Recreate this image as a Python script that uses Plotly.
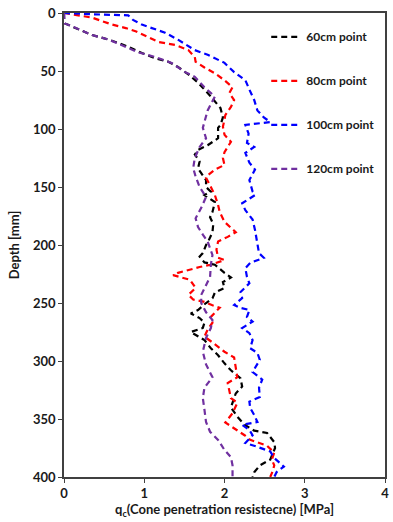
import plotly.graph_objects as go

# ---- data ----
depth_60 = [0, 5, 9, 13, 19, 23, 29, 34.5, 39, 42, 46.5, 53, 60, 66, 72, 82, 90, 96.5, 99, 108, 114, 118, 122, 128,
            134, 138, 144, 150, 154, 157, 163, 171.5, 176, 182, 189, 198, 200, 207, 210, 215, 217, 224, 228, 232,
            237, 241, 246, 250, 256, 259, 263, 267, 271.5, 275, 279, 282, 289, 295, 302, 308, 315, 322, 328, 335,
            340, 348, 355, 360, 362, 370, 375, 385, 390, 396, 400]
qc_60 = [0, 0, 0.01, 0.15, 0.35, 0.56, 0.8, 0.97, 1.14, 1.3, 1.42, 1.55, 1.67, 1.75, 1.83, 1.95, 1.98, 1.95, 1.92,
         1.92, 1.79, 1.67, 1.63, 1.69, 1.67, 1.71, 1.77, 1.77, 1.83, 1.75, 1.88, 1.85, 1.82, 1.86, 1.85, 1.79, 1.77,
         1.73, 1.69, 1.75, 1.88, 2.0, 2.08, 1.98, 2.0, 1.88, 1.85, 1.77, 1.67, 1.58, 1.69, 1.75, 1.73, 1.58, 1.67,
         1.75, 1.83, 1.92, 2.0, 2.08, 2.2, 2.22, 2.14, 2.1, 2.08, 2.16, 2.25, 2.37, 2.53, 2.62, 2.63, 2.57, 2.44,
         2.37, 2.35]

depth_80 = [0, 4, 10, 13, 16, 21, 25, 27.6, 32, 38, 42, 47, 52, 58, 64, 69, 75, 81, 88, 92, 98, 105, 111, 120, 125,
            131, 135, 140, 142, 150, 157, 165.5, 171.5, 180, 189, 193, 197, 204, 211, 213, 217, 219, 221.5, 224, 226,
            230, 237, 243, 247, 249, 252, 254, 262, 267, 273, 279, 284, 292, 297, 306, 314, 319, 326, 332, 336, 345,
            353, 358, 364, 368, 373, 379, 385, 390, 395, 400]
qc_80 = [0, 0.35, 0.6, 0.77, 0.9, 1.05, 1.18, 1.39, 1.55, 1.63, 1.64, 1.75, 1.88, 2.0, 2.1, 2.06, 2.12, 2.08, 2.01,
         2.0, 1.98, 2.0, 2.08, 2.0, 1.98, 2.0, 1.88, 1.79, 1.77, 1.83, 1.88, 1.92, 1.94, 2.0, 2.14, 2.04, 1.92, 1.9,
         1.92, 2.0, 1.83, 1.69, 1.55, 1.42, 1.36, 1.57, 1.64, 1.55, 1.61, 1.75, 1.85, 1.94, 1.83, 1.85, 1.79, 1.75,
         1.85, 2.0, 2.12, 2.14, 2.16, 2.04, 2.06, 2.08, 2.16, 2.1, 2.01, 2.12, 2.25, 2.32, 2.53, 2.62, 2.59, 2.62,
         2.6, 2.57]

depth_100 = [0, 1, 2, 6, 10, 17, 23, 32, 36, 43, 51, 58, 66, 75, 84, 90, 94, 96.5, 104, 112, 115.5, 120.7, 129, 135,
             144, 154, 157, 164, 170, 178, 187, 198, 207, 211, 215.5, 220, 227.6, 233, 240.5, 245.7, 251.7, 254, 256,
             262, 266, 271.6, 276, 282, 289, 293, 299, 309.5, 316, 323, 331, 335, 340.5, 346.5, 352.6, 355, 359.5,
             364, 370.7, 374, 378, 383.6, 391, 395.7, 400]
qc_100 = [0, 0.3, 0.8, 0.86, 0.97, 1.26, 1.42, 1.63, 1.79, 2.0, 2.12, 2.26, 2.31, 2.37, 2.41, 2.49, 2.57, 2.26, 2.3,
          2.28, 2.37, 2.26, 2.31, 2.38, 2.31, 2.35, 2.38, 2.22, 2.26, 2.35, 2.38, 2.41, 2.43, 2.49, 2.32, 2.26, 2.28,
          2.31, 2.2, 2.22, 2.12, 2.19, 2.31, 2.28, 2.35, 2.22, 2.31, 2.35, 2.32, 2.41, 2.44, 2.35, 2.47, 2.43, 2.44,
          2.31, 2.32, 2.37, 2.41, 2.22, 2.31, 2.35, 2.26, 2.41, 2.57, 2.62, 2.74, 2.65, 2.62]

depth_120 = [0, 9, 13, 19, 23, 29, 34, 38, 43, 51, 55, 64, 72, 84, 95, 99, 108, 115.5, 125, 133.6, 141, 150, 158.6,
             168, 177, 184.5, 191, 197, 208.6, 217, 227.6, 234.5, 243, 250, 258, 264.7, 271.6, 280, 292, 303, 314,
             323, 332, 342, 352.6, 361, 368, 376.7, 383, 390, 396.6, 400]
qc_120 = [0, 0.01, 0.15, 0.35, 0.56, 0.77, 0.93, 1.14, 1.34, 1.51, 1.63, 1.75, 1.88, 1.79, 1.75, 1.73, 1.77, 1.69,
          1.63, 1.61, 1.64, 1.69, 1.77, 1.71, 1.64, 1.67, 1.73, 1.79, 1.85, 1.83, 1.82, 1.77, 1.71, 1.71, 1.77, 1.85,
          1.83, 1.77, 1.73, 1.77, 1.85, 1.75, 1.73, 1.75, 1.77, 1.82, 1.92, 2.0, 2.08, 2.1, 2.1, 2.1]

series_names = ["60cm point", "80cm point", "100cm point", "120cm point"]
series_colors = ["#000000", "#ff0000", "#0000ff", "#7030a0"]
series_depths = [depth_60, depth_80, depth_100, depth_120]
series_values = [qc_60, qc_80, qc_100, qc_120]

x_ticks = [0, 1, 2, 3, 4]
y_ticks = [0, 50, 100, 150, 200, 250, 300, 350, 400]

FONT = "Lato"
TXT = "#1a1a1a"

fig = go.Figure()
for name, color, d, v in zip(series_names, series_colors, series_depths, series_values):
    fig.add_trace(go.Scatter(
        x=v, y=d, mode="lines", name=name, legendgroup=name,
        line=dict(color=color, width=2.2, dash="6px,4px"),
    ))

axis_common = dict(
    showline=True, linecolor="#404040", linewidth=1.5, mirror=True,
    ticks="outside", ticklen=4, tickcolor="#404040", tickwidth=1,
    showgrid=False, zeroline=False,
    tickfont=dict(family=FONT, size=13, color=TXT, weight="bold"),
)

fig.update_xaxes(
    range=[0, 4], tickvals=x_ticks, **axis_common,
    title=dict(text="q<sub>c</sub>(Cone penetration resistecne) [MPa]",
               font=dict(family=FONT, size=13, color=TXT, weight="bold"), standoff=5),
)
fig.update_yaxes(
    range=[400, 0], tickvals=y_ticks, **axis_common,
    title=dict(text="Depth [mm]", font=dict(family=FONT, size=13, color=TXT, weight="bold"), standoff=10),
)

fig.update_layout(
    width=393, height=522,
    margin=dict(l=64, r=4, t=13, b=45),
    paper_bgcolor="white", plot_bgcolor="white",
    font=dict(family=FONT),
    legend=dict(
        x=0.63, y=0.98, xanchor="left", yanchor="top",
        bgcolor="rgba(0,0,0,0)", tracegroupgap=25,
        font=dict(family=FONT, size=12, color=TXT, weight="bold"),
    ),
    showlegend=True,
)

fig.write_html("out.html")
